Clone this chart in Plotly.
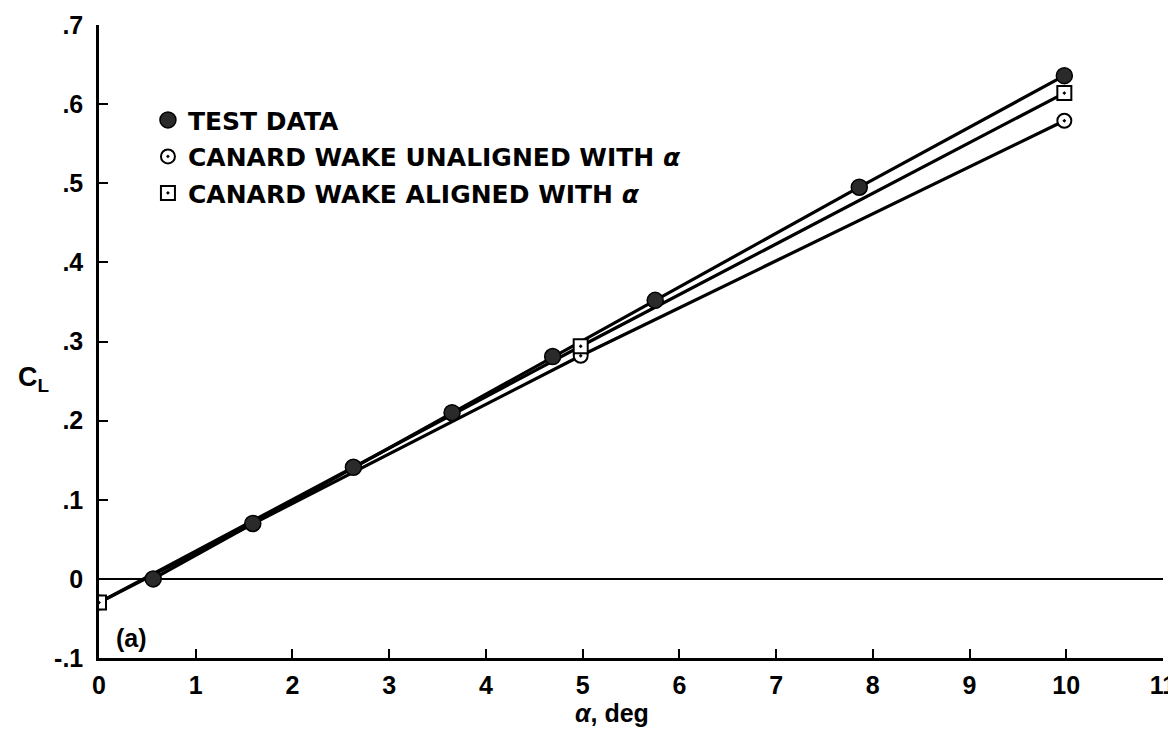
import plotly.graph_objects as go

# Test data (filled circles)
test_alpha = [0.56, 1.59, 2.63, 3.65, 4.69, 5.75, 7.86, 9.98]
test_cl = [0.0, 0.07, 0.141, 0.21, 0.281, 0.352, 0.495, 0.636]

# Canard wake unaligned with alpha (open circles)
unal_alpha = [0.0, 4.98, 9.98]
unal_cl = [-0.03, 0.282, 0.579]

# Canard wake aligned with alpha (open squares)
al_alpha = [0.0, 4.98, 9.98]
al_cl = [-0.03, 0.294, 0.614]

x_ticks = list(range(0, 12))
y_ticks = [-0.1, 0.0, 0.1, 0.2, 0.3, 0.4, 0.5, 0.6, 0.7]
y_ticktext = ["-.1", "0", ".1", ".2", ".3", ".4", ".5", ".6", ".7"]

FONT = "Liberation Sans, Arial, sans-serif"
LEG_FONT = "DejaVu Sans, Liberation Sans, sans-serif"

fig = go.Figure()

# lines first
line_style = dict(color="black", width=3.2)
fig.add_trace(go.Scatter(x=unal_alpha, y=unal_cl, mode="lines", line=line_style,
                         showlegend=False, hoverinfo="skip"))
fig.add_trace(go.Scatter(x=al_alpha, y=al_cl, mode="lines", line=line_style,
                         showlegend=False, hoverinfo="skip"))
fig.add_trace(go.Scatter(x=test_alpha, y=test_cl, mode="lines", line=line_style,
                         showlegend=False, hoverinfo="skip"))

# markers
fig.add_trace(go.Scatter(
    x=test_alpha, y=test_cl, mode="markers", name="TEST DATA",
    legendgroup="a",
    marker=dict(symbol="circle", size=16, color="#2a2a2a",
                line=dict(color="black", width=1.5))))
fig.add_trace(go.Scatter(
    x=unal_alpha, y=unal_cl, mode="markers",
    name="CANARD WAKE UNALIGNED WITH <i>α</i>", legendgroup="b",
    marker=dict(symbol="circle-dot", size=14, color="white",
                line=dict(color="black", width=2))))
fig.add_trace(go.Scatter(
    x=al_alpha, y=al_cl, mode="markers",
    name="CANARD WAKE ALIGNED WITH <i>α</i>", legendgroup="c",
    marker=dict(symbol="square-dot", size=14, color="white",
                line=dict(color="black", width=2))))

fig.update_layout(
    width=1176, height=729,
    margin=dict(l=91, r=21, t=17, b=79),
    paper_bgcolor="white", plot_bgcolor="white",
    font=dict(family=FONT, color="black", size=22, weight="bold"),
    showlegend=True,
    legend=dict(
        x=0.046, y=0.886, xanchor="left", yanchor="top",
        bgcolor="rgba(0,0,0,0)", borderwidth=0,
        font=dict(family=LEG_FONT, size=25, color="black", weight="bold"),
        traceorder="grouped", tracegroupgap=1, itemsizing="trace",
    ),
    xaxis=dict(
        range=[0, 11], tickvals=x_ticks, ticktext=[str(v) for v in x_ticks],
        showgrid=False, zeroline=False, automargin=False,
        showline=True, linecolor="black", linewidth=2.5,
        ticks="inside", ticklen=9, tickwidth=2, tickcolor="black",
        tickfont=dict(family=FONT, size=25, color="black", weight="bold"),
        ticklabelstandoff=3,
    ),
    yaxis=dict(
        range=[-0.1, 0.7], tickvals=y_ticks, ticktext=y_ticktext,
        showgrid=False, automargin=False,
        zeroline=True, zerolinecolor="black", zerolinewidth=2,
        showline=True, linecolor="black", linewidth=2.5,
        ticks="inside", ticklen=9, tickwidth=2, tickcolor="black",
        tickfont=dict(family=FONT, size=25, color="black", weight="bold"),
        ticklabelstandoff=8,
    ),
    annotations=[
        dict(text="C<sub>L</sub>", xref="paper", yref="paper",
             x=-0.062, y=0.44, xanchor="center", yanchor="middle",
             showarrow=False,
             font=dict(family=FONT, size=27, color="black", weight="bold")),
        dict(text="<i>α</i>, deg", xref="paper", yref="paper",
             x=0.482, y=-0.087, xanchor="center", yanchor="middle",
             showarrow=False,
             font=dict(family=FONT, size=25, color="black", weight="bold")),
        dict(text="(a)", xref="x", yref="y",
             x=0.16, y=-0.075, xanchor="left", yanchor="middle",
             showarrow=False,
             font=dict(family=FONT, size=25, color="black", weight="bold")),
    ],
)

fig.write_html("out.html")
